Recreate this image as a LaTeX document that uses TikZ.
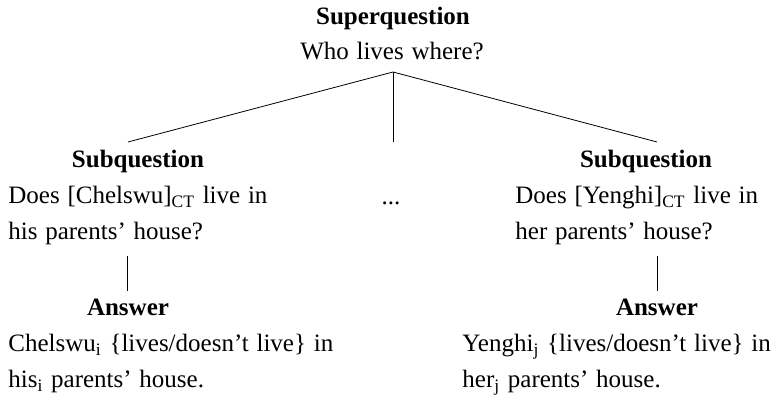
\documentclass[tikz,border=0pt]{standalone}
\usepackage{fontspec}
\setmainfont{Liberation Serif}
\usepackage{tikz}
\newcommand\widespace{\spaceskip=0.31em plus 0.1em\relax}

\begin{document}
\begin{tikzpicture}[x=0.5pt,y=-0.5pt,
  txt/.style={inner sep=0pt,align=left,font=\fontsize{12.5}{18}\selectfont\widespace},
  head/.style={inner sep=0pt,font=\fontsize{12.5}{18}\selectfont\bfseries}]
\useasboundingbox (0,0) rectangle (774,399);
\node[head,anchor=base] (super) at (393,25) {Superquestion};
\node[txt,anchor=base] (who) at (392,60) {Who lives where?};
% three branches below the superquestion
\coordinate (top) at (393,72);
\coordinate (lend) at (128,142);
\coordinate (mend) at (393,142);
\coordinate (rend) at (657,142);
\draw (top) -- (lend);
\draw (top) -- (mend);
\draw (top) -- (rend);
% subquestions (base = last line)
\node[head,anchor=base] (subL) at (138,168) {Subquestion};
\node[txt,anchor=base west] (qL) at (8,240) {Does [Chelswu]\textsubscript{CT} live in\\his parents’ house?};
\node[txt,anchor=base] (dots) at (391,205) {...};
\node[head,anchor=base] (subR) at (646,168) {Subquestion};
\node[txt,anchor=base west] (qR) at (515,240) {Does [Yenghi]\textsubscript{CT} live in\\her parents’ house?};
% answers
\coordinate (la) at (127,256);
\coordinate (ra) at (657,256);
\node[head,anchor=base] (ansL) at (128,316) {Answer};
\node[head,anchor=base] (ansR) at (657,316) {Answer};
\draw (la) -- ([yshift=4pt]ansL.north -| la);
\draw (ra) -- ([yshift=4pt]ansR.north -| ra);
\node[txt,anchor=base west] (aL) at (8,388) {Chelswu\textsubscript{i} \{lives/doesn’t live\} in\\his\textsubscript{i} parents’ house.};
\node[txt,anchor=base west] (aR) at (462,388) {Yenghi\textsubscript{j} \{lives/doesn’t live\} in\\her\textsubscript{j} parents’ house.};
\end{tikzpicture}
\end{document}
